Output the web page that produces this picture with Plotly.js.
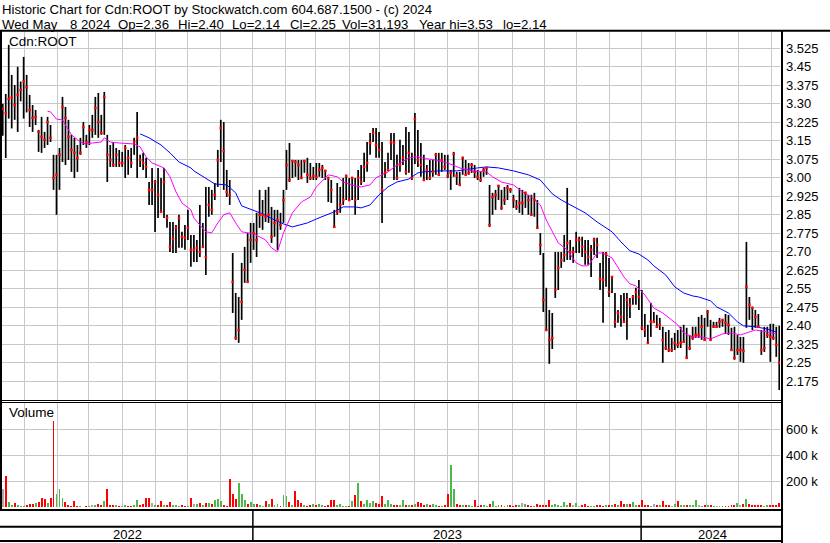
<!DOCTYPE html>
<html><head><meta charset="utf-8">
<script src="https://cdn.plot.ly/plotly-3.0.1.min.js"></script>
<style>html,body{margin:0;padding:0;background:#fff;}#chart{width:830px;height:543px;}</style>
</head><body><div id="chart"></div>
<script>
// ---- data (one entry per 2 trading days, starting 2022-05-11) ----
const highs = [3.30,3.340,3.539,3.417,3.376,3.450,3.390,3.490,3.417,3.336,3.295,3.275,3.194,3.247,3.186,3.247,3.214,3.093,3.093,3.121,
3.328,3.287,3.235,3.174,3.162,3.133,3.162,3.226,3.174,3.214,3.255,3.328,3.344,3.255,3.348,3.174,3.133,3.145,3.121,3.113,
3.105,3.133,3.113,3.121,3.162,3.267,3.093,3.101,3.081,2.983,3.040,2.991,3.040,2.999,3.040,2.850,2.821,2.821,2.809,2.850,
2.781,2.809,2.870,2.768,2.768,2.748,2.890,2.817,2.963,2.963,2.951,2.979,3.113,3.235,3.226,3.032,2.991,2.695,2.533,2.517,
2.655,2.720,2.776,2.817,2.817,2.858,2.951,2.910,2.951,2.963,2.882,2.870,2.870,2.858,2.951,3.113,3.141,3.072,3.072,3.072,
3.072,3.072,3.081,3.060,3.044,3.060,3.060,3.052,3.032,3.004,2.991,2.870,2.979,2.963,2.999,3.012,2.999,3.004,2.999,3.032,
3.052,3.101,3.145,3.182,3.202,3.202,3.186,3.145,3.064,3.101,3.182,3.182,3.093,3.154,3.133,3.206,3.186,3.101,3.263,3.194,
3.141,3.093,3.052,3.072,3.072,3.101,3.101,3.101,3.093,3.093,3.032,3.105,3.024,3.024,3.085,3.072,3.060,3.060,3.052,3.032,
3.024,3.040,3.040,2.971,2.939,2.951,2.971,2.951,2.963,2.971,2.959,2.931,2.910,2.959,2.951,2.943,2.931,2.931,2.939,2.910,
2.776,2.695,2.554,2.464,2.452,2.699,2.699,2.699,2.768,2.959,2.748,2.720,2.781,2.761,2.761,2.748,2.748,2.728,2.757,2.757,
2.655,2.699,2.699,2.675,2.598,2.533,2.464,2.525,2.533,2.533,2.513,2.525,2.554,2.586,2.545,2.448,2.404,2.493,2.456,2.444,
2.432,2.396,2.375,2.383,2.351,2.371,2.383,2.396,2.404,2.392,2.363,2.396,2.396,2.436,2.444,2.432,2.464,2.424,2.416,2.416,
2.432,2.424,2.448,2.444,2.392,2.396,2.363,2.355,2.355,2.740,2.517,2.477,2.464,2.448,2.383,2.396,2.396,2.408,2.408,2.396,2.40];
const lows = [3.170,3.080,3.240,3.200,3.235,3.186,3.310,3.240,3.265,3.206,3.186,3.214,3.105,3.101,3.121,3.133,3.145,2.951,2.850,2.951,
3.064,3.052,3.072,3.024,2.999,3.024,3.093,3.133,3.121,3.133,3.162,3.174,3.162,3.174,3.174,2.983,3.044,3.044,3.044,3.044,
3.044,2.999,3.012,3.040,3.093,2.999,3.044,3.032,2.999,2.890,2.890,2.780,2.837,2.862,2.837,2.797,2.699,2.695,2.695,2.716,
2.716,2.708,2.748,2.639,2.659,2.659,2.679,2.720,2.606,2.842,2.850,2.910,2.963,3.064,2.951,2.922,2.890,2.452,2.343,2.331,
2.424,2.574,2.578,2.655,2.708,2.679,2.797,2.789,2.821,2.817,2.736,2.761,2.708,2.789,2.817,2.951,2.983,2.999,3.004,2.991,
2.999,3.020,2.979,2.991,2.991,2.991,3.004,2.999,2.991,2.902,2.898,2.797,2.850,2.858,2.890,2.910,2.910,2.910,2.850,2.910,
2.971,2.983,3.024,3.093,3.145,3.081,3.081,2.817,2.999,3.032,3.072,2.991,2.991,3.024,3.052,3.012,3.020,2.991,3.056,3.044,
3.004,2.991,2.991,2.991,3.004,3.012,3.012,3.024,3.032,2.999,2.951,3.004,2.971,2.971,3.012,3.012,3.012,3.020,2.999,2.991,
2.983,3.004,3.012,2.801,2.850,2.870,2.910,2.870,2.890,2.910,2.939,2.878,2.870,2.858,2.850,2.878,2.850,2.850,2.842,2.797,
2.687,2.456,2.383,2.246,2.306,2.513,2.545,2.635,2.659,2.667,2.667,2.655,2.695,2.695,2.679,2.647,2.647,2.598,2.687,2.675,
2.545,2.412,2.558,2.517,2.533,2.392,2.412,2.396,2.416,2.343,2.432,2.485,2.485,2.464,2.383,2.355,2.331,2.355,2.412,2.392,
2.383,2.250,2.302,2.294,2.294,2.302,2.310,2.310,2.331,2.270,2.302,2.343,2.351,2.351,2.343,2.343,2.396,2.343,2.392,2.392,
2.392,2.396,2.367,2.363,2.302,2.262,2.282,2.254,2.250,2.392,2.424,2.383,2.392,2.392,2.282,2.294,2.351,2.254,2.343,2.274,2.14];
const closes = [3.28,3.262,3.320,3.325,3.295,3.336,3.356,3.390,3.368,3.275,3.243,3.247,3.186,3.166,3.154,3.226,3.162,2.999,3.012,3.093,
3.287,3.243,3.166,3.113,3.101,3.081,3.101,3.206,3.145,3.194,3.194,3.283,3.226,3.182,3.328,3.093,3.072,3.052,3.093,3.060,
3.060,3.121,3.081,3.060,3.145,3.162,3.072,3.060,3.044,2.951,2.951,2.983,2.931,2.862,2.983,2.837,2.720,2.752,2.797,2.837,
2.761,2.757,2.797,2.708,2.708,2.716,2.699,2.720,2.679,2.890,2.870,2.931,3.072,3.202,3.109,2.943,2.931,2.578,2.351,2.383,
2.497,2.627,2.578,2.748,2.776,2.748,2.850,2.850,2.842,2.850,2.761,2.817,2.829,2.809,2.910,3.052,2.991,3.068,3.064,3.052,
2.999,3.068,3.012,2.999,3.008,3.004,3.032,3.040,3.028,2.999,2.951,2.801,2.862,2.890,2.910,3.008,2.910,2.999,2.910,2.999,
2.983,3.044,3.060,3.141,3.182,3.133,3.113,2.951,3.020,3.032,3.145,3.141,2.999,3.052,3.081,3.024,3.101,2.999,3.238,3.072,
3.052,2.991,3.032,2.999,3.024,3.093,3.012,3.072,3.044,3.008,3.020,3.097,3.008,2.971,3.081,3.012,3.020,3.052,3.024,3.004,
2.991,3.032,3.040,2.809,2.922,2.931,2.967,2.878,2.910,2.959,2.951,2.910,2.882,2.898,2.898,2.939,2.910,2.850,2.910,2.797,
2.728,2.505,2.383,2.343,2.351,2.545,2.635,2.667,2.687,2.736,2.699,2.699,2.748,2.748,2.720,2.699,2.679,2.708,2.748,2.728,
2.590,2.586,2.691,2.537,2.598,2.416,2.452,2.436,2.416,2.505,2.485,2.517,2.537,2.517,2.392,2.383,2.331,2.416,2.416,2.396,
2.404,2.343,2.310,2.302,2.302,2.331,2.323,2.331,2.335,2.270,2.310,2.351,2.363,2.363,2.396,2.343,2.456,2.343,2.396,2.396,
2.416,2.424,2.412,2.404,2.302,2.270,2.302,2.302,2.298,2.558,2.485,2.473,2.436,2.396,2.302,2.310,2.363,2.355,2.351,2.323,2.25];
const volumes = [140000,240000,43000,15000,30000,15000,10000,8000,20000,25000,25000,30000,40000,74000,64000,30000,70000,664000,105000,144000,
74000,41000,15000,10000,46000,8000,12000,6000,10000,8000,20000,18000,28000,20000,46000,144000,20000,20000,20000,13000,
13000,20000,8000,10000,20000,54000,20000,28000,72000,74000,33000,20000,15000,46000,15000,20000,41000,20000,15000,10000,
15000,8000,8000,74000,28000,28000,33000,15000,33000,33000,28000,54000,67000,46000,20000,13000,220000,100000,67000,190000,
105000,54000,28000,41000,28000,28000,15000,10000,46000,28000,67000,15000,28000,10000,97000,85000,41000,15000,123000,54000,
33000,15000,8000,15000,28000,20000,28000,15000,8000,20000,59000,54000,20000,28000,10000,8000,10000,46000,97000,190000,
46000,28000,59000,33000,46000,33000,28000,85000,28000,54000,28000,20000,15000,15000,54000,20000,20000,20000,28000,41000,
33000,20000,28000,15000,28000,15000,10000,8000,20000,105000,328000,144000,28000,20000,15000,20000,15000,10000,54000,10000,
20000,15000,10000,28000,46000,10000,15000,20000,10000,15000,20000,10000,15000,20000,33000,28000,20000,10000,10000,25000,
20000,15000,20000,59000,20000,28000,15000,10000,41000,15000,33000,20000,33000,10000,15000,28000,10000,8000,8000,15000,
15000,10000,20000,20000,15000,28000,15000,46000,28000,28000,28000,41000,20000,20000,59000,15000,15000,8000,28000,15000,
15000,46000,20000,20000,8000,28000,46000,20000,15000,15000,20000,15000,54000,20000,10000,20000,15000,20000,8000,8000,
8000,8000,8000,10000,15000,20000,36000,15000,28000,67000,28000,20000,20000,15000,15000,10000,20000,15000,15000,20000,31193];
const maShortIdx = [15,16,18,20,21,23,26,28,30,33,34,36,39,44,46,48,50,54,56,58,60,63,64,66,68,70,72,74,76,78,80,84,88,90,92,94,97,100,103,105,108,109,112,114,118,120,123,125,129,131,132,136,139,142,145,149,153,157,162,164,167,171,174,177,180,182,184,186,189,192,194,196,199,201,204,206,208,210,212,215,218,221,223,226,228,231,234,237,241,244,247,249,252,256,259];
const maShortVal = [3.27,3.267,3.238,3.235,3.214,3.174,3.145,3.137,3.141,3.145,3.162,3.145,3.141,3.137,3.125,3.085,3.06,3.04,3.004,2.943,2.898,2.87,2.837,2.809,2.781,2.777,2.817,2.85,2.858,2.817,2.781,2.773,2.748,2.716,2.70,2.777,2.858,2.902,2.922,2.963,3.0,3.012,3.004,2.983,2.967,2.963,2.971,3.0,3.024,3.044,3.052,3.081,3.085,3.077,3.072,3.06,3.04,3.028,3.024,3.004,2.983,2.971,2.943,2.922,2.89,2.829,2.781,2.736,2.708,2.655,2.643,2.643,2.695,2.695,2.675,2.639,2.598,2.57,2.562,2.525,2.472,2.452,2.432,2.404,2.371,2.355,2.355,2.347,2.367,2.371,2.363,2.371,2.383,2.375,2.367];
const maLongIdx = [46,49,53,56,59,63,64,66,69,71,75,78,80,84,87,91,94,97,102,105,111,114,118,120,123,126,129,132,136,139,141,146,152,159,162,166,171,176,180,182,184,187,192,195,199,204,207,210,213,216,218,222,225,228,231,233,237,239,243,246,248,252,256,259];
const maLongVal = [3.178,3.162,3.133,3.101,3.064,3.04,3.028,3.012,2.991,2.975,2.971,2.939,2.886,2.866,2.854,2.829,2.813,2.801,2.817,2.833,2.862,2.882,2.882,2.878,2.89,2.931,2.963,2.983,2.995,3.02,3.024,3.028,3.028,3.04,3.044,3.04,3.028,3.012,2.991,2.963,2.935,2.91,2.878,2.858,2.821,2.781,2.74,2.704,2.691,2.667,2.643,2.606,2.558,2.533,2.521,2.517,2.501,2.477,2.452,2.416,2.40,2.396,2.387,2.375];
const priceTicks = [3.525,3.45,3.375,3.3,3.225,3.15,3.075,3.0,2.925,2.85,2.775,2.7,2.625,2.55,2.475,2.4,2.325,2.25,2.175];
const priceTickText = ['3.525','3.45','3.375','3.30','3.225','3.15','3.075','3.00','2.925','2.85','2.775','2.70','2.625','2.55','2.475','2.40','2.325','2.25','2.175'];
const volTicks = [200000,400000,600000];
const volTickText = ['200 k','400 k','600 k'];
const yearLabels = ['2022','2023','2024'];
const yearLabelDates = ['2022-09-06','2023-07-03','2024-03-06 18:00'];
const yearStarts = ['2023-01-02','2024-01-01'];
const header1 = 'Historic Chart for Cdn:ROOT by Stockwatch.com 604.687.1500 - (c) 2024';
const header2Parts = ['Wed May','8 2024','Op=2.36','Hi=2.40','Lo=2.14','Cl=2.25','Vol=31,193','Year hi=3.53','lo=2.14'];
const symbolLabel = 'Cdn:ROOT';
const volumeLabel = 'Volume';

// ---- layout positions (pixels) ----
const header2X = [1.7,70,118,178,232,290,342.3,419.3,502.7];

// ---- build ----
function tradingDates(n){
  const out=[]; let t=Date.UTC(2022,4,11); let k=0;
  while(out.length<n){
    const d=new Date(t), wd=d.getUTCDay();
    if(wd!==0 && wd!==6){ if(k%2===0) out.push(d.toISOString().slice(0,10)+' 12:00'); k++; }
    t+=86400000;
  }
  return out;
}
const dates = tradingDates(closes.length);
const bx=[], by=[];
dates.forEach((d,i)=>{ bx.push(d,d,null); by.push(lows[i],highs[i],null); });
const vcol = closes.map((c,i)=> i===0 ? '#a8a8a8' : (c>closes[i-1] ? '#4cb84c' : (c<closes[i-1] ? '#ff0000' : '#a8a8a8')));

const W=830, H=543;
const fx = x=>x/W, fy = y=>1-y/H;
const FONT = '"Liberation Sans", Arial, sans-serif';
const GRID = '#c8c8c8';

const traces = [
  {type:'scatter', mode:'lines', x:bx, y:by, line:{color:'#000', width:1.7}, hoverinfo:'skip', xaxis:'x', yaxis:'y'},
  {type:'scatter', mode:'lines', x:maLongIdx.map(i=>dates[i]), y:maLongVal, line:{color:'#0000ff', width:1}, xaxis:'x', yaxis:'y'},
  {type:'scatter', mode:'lines', x:maShortIdx.map(i=>dates[i]), y:maShortVal, line:{color:'#ff00ff', width:1}, xaxis:'x', yaxis:'y'},
  {type:'scatter', mode:'markers', x:dates, y:closes, marker:{symbol:'square', size:2.5, color:'#ff0000', line:{width:0}}, xaxis:'x', yaxis:'y'},
  {type:'bar', x:dates, y:volumes, width:1.3*86400000, marker:{color:vcol, line:{width:0}}, xaxis:'x2', yaxis:'y2'}
];

const xcommon = {type:'date', range:['2022-05-11 00:00','2024-05-09 00:00'], rangebreaks:[{bounds:['sat','mon']}],
  domain:[fx(2),fx(780)], tickmode:'linear', tick0:'2022-01-01', dtick:'M1', showticklabels:false, ticks:'',
  showgrid:true, gridcolor:GRID, gridwidth:1, zeroline:false, showline:false, fixedrange:true};

const hl = (y,w,x1)=>({type:'line', xref:'paper', yref:'paper', x0:0, x1:fx(x1===undefined?782:x1), y0:fy(y), y1:fy(y), line:{color:'#000', width:w}});
const shapes = [
  hl(30.8,2,830), hl(400.5,1), hl(402.5,1), hl(510,2), hl(526.7,2), hl(541,2),
  {type:'line', xref:'paper', yref:'paper', x0:fx(1), x1:fx(1), y0:fy(30), y1:fy(510), line:{color:'#000', width:2}},
  {type:'line', xref:'paper', yref:'paper', x0:fx(782), x1:fx(782), y0:fy(30), y1:fy(543), line:{color:'#000', width:2}}
];
yearStarts.forEach(d=>shapes.push({type:'line', xref:'x', yref:'paper', x0:d, x1:d, y0:fy(510), y1:fy(541), line:{color:'#000', width:1.5}}));

const ann = (text,x,y,size)=>({text:text, xref:'paper', yref:'paper', x:fx(x), y:fy(y), xanchor:'left', yanchor:'middle', showarrow:false, borderpad:0, font:{family:FONT, size:size, color:'#000'}});
const annotations = [
  ann(header1,0.5,9.6,13.2),
  ann(symbolLabel,8,41,13.5),
  ann(volumeLabel,8,412.5,13.5)
];
header2Parts.forEach((t,k)=>annotations.push(ann(t, header2X[k]-1.2, 24.4, 13.2)));
yearLabels.forEach((t,k)=>annotations.push({text:t, xref:'x', yref:'paper', x:yearLabelDates[k], y:fy(534.5), xanchor:'center', yanchor:'middle', showarrow:false, borderpad:0, font:{family:FONT, size:13, color:'#000'}}));

const layout = {
  width:W, height:H, margin:{l:0,r:0,t:0,b:0,pad:0},
  paper_bgcolor:'#fff', plot_bgcolor:'#fff', showlegend:false, hovermode:false,
  font:{family:FONT, size:13, color:'#000'},
  bargap:0,
  xaxis:Object.assign({}, xcommon, {anchor:'y'}),
  xaxis2:Object.assign({}, xcommon, {anchor:'y2'}),
  yaxis:{domain:[fy(400), fy(32)], range:[2.0992,3.591], side:'right', anchor:'x', tickmode:'array', tickvals:priceTicks, ticktext:priceTickText,
    showgrid:true, gridcolor:GRID, gridwidth:1, zeroline:false, showline:false, ticks:'', ticklabelstandoff:5, tickfont:{family:FONT,size:13,color:'#000'}, fixedrange:true},
  yaxis2:{domain:[fy(507.3), fy(402)], range:[0,810000], side:'right', anchor:'x2', tickmode:'array', tickvals:volTicks, ticktext:volTickText,
    showgrid:true, gridcolor:GRID, gridwidth:1, zeroline:false, showline:false, ticks:'', ticklabelstandoff:5, tickfont:{family:FONT,size:13,color:'#000'}, fixedrange:true},
  shapes:shapes, annotations:annotations
};
Plotly.newPlot('chart', traces, layout, {staticPlot:true, displayModeBar:false});
</script></body></html>
